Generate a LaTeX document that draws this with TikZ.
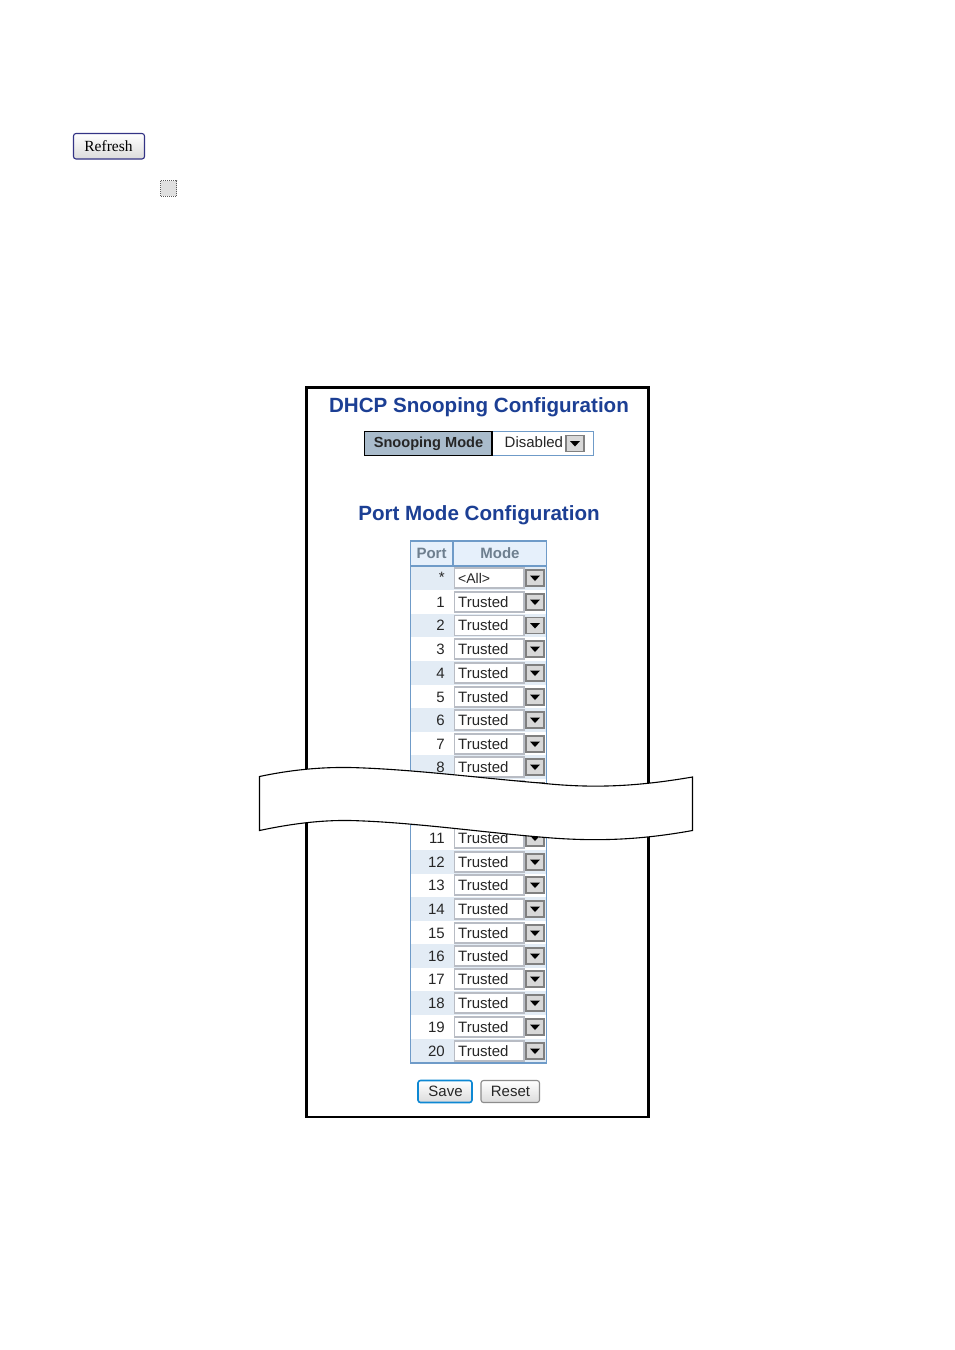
\documentclass[tikz,border=0pt]{standalone}
\usepackage{fontspec}
\setmainfont{Liberation Sans}
\newfontfamily\seriffont{Liberation Serif}
\definecolor{tblue}{HTML}{6F9BC8}
\definecolor{stripe}{HTML}{E3ECF5}
\definecolor{headbg}{HTML}{E6F0FB}
\definecolor{headtx}{HTML}{6E7F8F}
\definecolor{titleblue}{HTML}{1C3F94}
\definecolor{selborder}{HTML}{B8BCC4}
\definecolor{btnbg}{HTML}{D8D8D8}
\definecolor{modebg}{HTML}{A9BBCB}
\tikzset{
  pagebg/.style={fill=white,draw=none},
  frame/.style={draw=black,line width=2.1pt,fill=white},
  title/.style={font=\fontsize{20.6}{24}\selectfont\bfseries,text=titleblue,inner sep=0pt},
  cell/.style={font=\fontsize{15}{18}\selectfont,text=black!85,inner sep=0pt},
  headcell/.style={font=\fontsize{15}{18}\selectfont\bfseries,text=headtx,inner sep=0pt},
  selbox/.style={draw=selborder,line width=1.5pt,fill=white},
  arrowbtn/.style={draw=black!50,line width=1.2pt,fill=btnbg},
  tri/.style={fill=black,draw=none},
  banner/.style={draw=black,line width=1.1pt,fill=white},
  btn/.style={rounded corners=2.5pt,line width=1.1pt,top color=white,bottom color=black!14}
}
\newcommand{\dropbtn}[2]{% x0,ycentre
  \draw[arrowbtn] (#1,#2-8) rectangle (#1+18,#2+8);
  \fill[tri] (#1+4,#2-2.5) -- (#1+14,#2-2.5) -- (#1+9,#2+3) -- cycle;
}
\newcommand{\rowsel}[1]{%
  \draw[selbox] (454.5,#1-10) rectangle (524,#1+10);
  \dropbtn{526}{#1}
}
\newcommand{\striperow}[1]{\fill[stripe] (411,#1-11.9) rectangle (546,#1+11.9);}
\begin{document}
\begin{tikzpicture}[x=1pt,y=-1pt]
\useasboundingbox (0,0) rectangle (954,1350);
\fill[pagebg] (0,0) rectangle (954,1350);
% Refresh button and checkbox
\draw[btn,draw=blue!40!black!80] (73.5,133.5) rectangle (144.5,159);
\node[font=\seriffont\fontsize{15.5}{20}\selectfont,inner sep=0pt,text=black] (refresh) at (108.5,146) {Refresh};
\draw[draw=black!65,densely dotted,line width=1pt,fill=black!12] (160.5,180.5) rectangle (176.5,196);
% Frame
\draw[frame] (306.5,387.5) rectangle (648.5,1117);
\node[title] (t1) at (479,407) {DHCP Snooping Configuration};
% Snooping mode
\draw[draw=tblue,line width=1pt,fill=white] (492,431.5) rectangle (593,455.5);
\draw[draw=black,line width=1.3pt,fill=modebg] (364.5,431.5) rectangle (492,455.5);
\node[font=\fontsize{14.6}{18}\selectfont\bfseries,inner sep=0pt,text=black!85] (sm) at (428.5,443.5) {Snooping Mode};
\draw[draw=white,line width=1pt,fill=white] (500,433.5) rectangle (562,453.5);
\node[cell,anchor=west] (dis) at (504.5,442.5) {Disabled};
\dropbtn{566}{443.5}
\node[title] (t2) at (479,515) {Port Mode Configuration};
% Table
\fill[white] (411,566) rectangle (546,1063);
\fill[headbg] (411,541) rectangle (546,566);
\foreach \y in {578,625.5,673,720,767,814,862,909,956,1003,1051}{\striperow{\y}}
\draw[draw=tblue,line width=1.2pt] (410.5,541) rectangle (546.5,1063);
\draw[draw=tblue,line width=1.2pt] (410.5,566) -- (546.5,566);
\draw[draw=tblue,line width=1.2pt] (453,541) -- (453,566);
\node[headcell] (hp) at (431.5,553.5) {Port};
\node[headcell] (hm) at (500,553.5) {Mode};
\node[cell,anchor=north east] (star) at (445,572) {*};
\rowsel{578}
\node[cell,anchor=west,font=\fontsize{14}{16}\selectfont] (all) at (458,578) {<All>};
\foreach \n/\y in {1/602,2/625.5,3/649,4/673,5/697,6/720,7/744,8/767,11/838,12/862,13/885,14/909,15/933,16/956,17/979,18/1003,19/1027,20/1051}{
  \rowsel{\y}
  \node[cell,anchor=east] (p\n) at (445,\y) {\n};
  \node[cell,anchor=west] (m\n) at (458,\y) {Trusted};
}
\rowsel{791}
% Buttons
\draw[btn,draw=cyan!70!blue,line width=1.6pt] (418,1080.5) rectangle (472,1102.5);
\node[cell] (save) at (445.5,1091.5) {Save};
\draw[btn,draw=black!45] (481,1080.5) rectangle (539.5,1102.5);
\node[cell] (reset) at (510.5,1091.5) {Reset};
% Banner
\draw[banner] (259.5,776.5)
  .. controls (290,770) and (320,767) .. (350,767.5)
  .. controls (410,769) and (480,778) .. (540,783)
  .. controls (595,789) and (640,786) .. (692.5,777)
  -- (692.5,830.5)
  .. controls (640,840) and (595,842) .. (540,837)
  .. controls (480,832) and (410,822) .. (350,820.5)
  .. controls (320,820) and (290,824) .. (259.5,830.5)
  -- cycle;
\end{tikzpicture}
\end{document}
